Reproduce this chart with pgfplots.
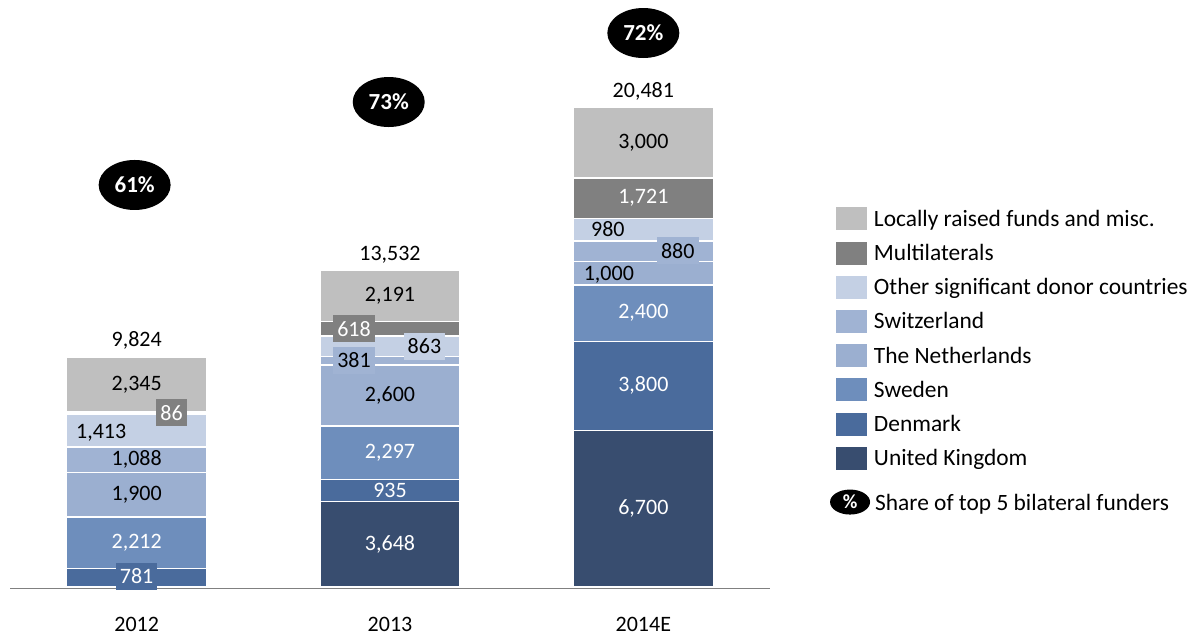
\documentclass[border=0pt]{standalone}
\usepackage{fontspec}
\setmainfont{Carlito}
\usepackage{pgfplots}
\pgfplotsset{compat=1.18}
\usetikzlibrary{shapes.geometric}
\definecolor{cUK}{HTML}{384D6F}
\definecolor{cDK}{HTML}{4A6B9C}
\definecolor{cSE}{HTML}{6E8EBC}
\definecolor{cNL}{HTML}{9BAFD0}
\definecolor{cCH}{HTML}{A0B3D3}
\definecolor{cOT}{HTML}{C4D0E4}
\definecolor{cML}{HTML}{808080}
\definecolor{cLO}{HTML}{BFBFBF}
\begin{document}
\begin{tikzpicture}[font=\fontsize{22}{26}\selectfont,
  lab/.style={font=\fontsize{22}{26}\selectfont, inner sep=0pt},
  wl/.style={lab, text=white},
  bx/.style={font=\fontsize{22}{26}\selectfont, inner xsep=4pt, inner ysep=0pt, minimum height=27pt},
  pct/.style={ellipse, fill=black, text=white, font=\fontsize{23}{27}\selectfont\bfseries, minimum width=72pt, minimum height=50pt, inner sep=0pt}]
\path[use as bounding box] (-10pt,-51pt) rectangle (1185pt,587pt);
\begin{axis}[
  scale only axis, width=760pt, height=585pt,
  xmin=-0.5, xmax=2.5, ymin=0, ymax=25000,
  ybar stacked, bar width=140pt,
  axis y line=none, axis x line=bottom,
  x axis line style={-, draw=gray, line width=1.5pt, yshift=-1.3pt},
  xtick={0,1,2}, xticklabels={2012,2013,2014E},
  major tick length=0pt,
  xticklabel style={font=\fontsize{22}{26}\selectfont, yshift=-26.5pt},
  clip=false,
  every axis plot/.append style={draw=white, line width=1.4pt},
  reverse legend,
  legend cell align=left,
  legend image code/.code={\fill[#1, draw=none] (0pt,-9.5pt) rectangle (31pt,13.5pt);},
  legend style={at={(1.0868,0.649)}, anchor=north west, draw=none, fill=none,
    inner sep=0pt, outer sep=0pt, row sep=9.2pt,
    font=\fontsize{23.4}{28}\selectfont,
    nodes={inner xsep=7pt, inner ysep=0pt, text height=17pt, text depth=6pt}},
]
\addplot[fill=cUK] coordinates {(0,0) (1,3648) (2,6700)};
\addlegendentry{United Kingdom}
\addplot[fill=cDK] coordinates {(0,781) (1,935) (2,3800)};
\addlegendentry{Denmark}
\addplot[fill=cSE] coordinates {(0,2212) (1,2297) (2,2400)};
\addlegendentry{Sweden}
\addplot[fill=cNL] coordinates {(0,1900) (1,2600) (2,1000)};
\addlegendentry{The Netherlands}
\addplot[fill=cCH] coordinates {(0,1088) (1,381) (2,880)};
\addlegendentry{Switzerland}
\addplot[fill=cOT] coordinates {(0,1413) (1,863) (2,980)};
\addlegendentry{Other significant donor countries}
\addplot[fill=cML] coordinates {(0,86) (1,618) (2,1721)};
\addlegendentry{Multilaterals}
\addplot[fill=cLO] coordinates {(0,2345) (1,2191) (2,3000)};
\addlegendentry{Locally raised funds and misc.}

% label anchors (segment centres, offsets as in the reference)
\coordinate (a1) at (axis cs:0,449);
\coordinate (a2) at (axis cs:0,1887);
\coordinate (a3) at (axis cs:0,3943);
\coordinate (a4) at (axis cs:0,5437);
\coordinate (a5) at (axis cs:-0.14,6600);
\coordinate (a6) at (axis cs:0.138,7437);
\coordinate (a7) at (axis cs:0,8652);
\coordinate (a8) at (axis cs:0,10556);
\coordinate (b1) at (axis cs:1,1824);
\coordinate (b2) at (axis cs:1,4115);
\coordinate (b3) at (axis cs:1,5731);
\coordinate (b4) at (axis cs:1,8180);
\coordinate (b5) at (axis cs:0.858,9700);
\coordinate (b6) at (axis cs:1.136,10299);
\coordinate (b7) at (axis cs:0.858,11033);
\coordinate (b8) at (axis cs:1,12437);
\coordinate (b9) at (axis cs:1,14188);
\coordinate (c1) at (axis cs:2,3350);
\coordinate (c2) at (axis cs:2,8600);
\coordinate (c3) at (axis cs:2,11700);
\coordinate (c4) at (axis cs:1.864,13360);
\coordinate (c5) at (axis cs:2.136,14370);
\coordinate (c6) at (axis cs:1.86,15300);
\coordinate (c7) at (axis cs:2,16620);
\coordinate (c8) at (axis cs:2,18981);
\coordinate (c9) at (axis cs:2,21167);
\coordinate (p1) at (axis cs:-0.008,17180);
\coordinate (p2) at (axis cs:0.995,20726);
\coordinate (p3) at (axis cs:2.0,23675);
\coordinate (q1) at (axis cs:2.816,3630);
\coordinate (q2) at (axis cs:2.9145,3550);
\end{axis}
% 2012
\node[bx, fill=cDK, text=white] at (a1) {781};
\node[wl] at (a2) {2,212};
\node[lab] at (a3) {1,900};
\node[lab] at (a4) {1,088};
\node[lab] at (a5) {1,413};
\node[bx, fill=cML, text=white] at (a6) {86};
\node[lab] at (a7) {2,345};
\node[lab] at (a8) {9,824};
% 2013
\node[wl] at (b1) {3,648};
\node[wl] at (b2) {935};
\node[wl] at (b3) {2,297};
\node[lab] at (b4) {2,600};
\node[bx, fill=cCH] at (b5) {381};
\node[bx, fill=cOT] at (b6) {863};
\node[bx, fill=cML, text=white] at (b7) {618};
\node[lab] at (b8) {2,191};
\node[lab] at (b9) {13,532};
% 2014E
\node[wl] at (c1) {6,700};
\node[wl] at (c2) {3,800};
\node[wl] at (c3) {2,400};
\node[lab] at (c4) {1,000};
\node[bx, fill=cCH] at (c5) {880};
\node[lab] at (c6) {980};
\node[wl] at (c7) {1,721};
\node[lab] at (c8) {3,000};
\node[lab] at (c9) {20,481};
% shares
\node[pct] at (p1) {61\%};
\node[pct] at (p2) {73\%};
\node[pct] at (p3) {72\%};
% legend extra item
\node[pct, font=\fontsize{20}{24}\selectfont\bfseries, minimum width=40pt, minimum height=25pt] at (q1) {\%};
\node[lab, font=\fontsize{23.4}{28}\selectfont, anchor=west] at (q2) {Share of top 5 bilateral funders};
\end{tikzpicture}
\end{document}
